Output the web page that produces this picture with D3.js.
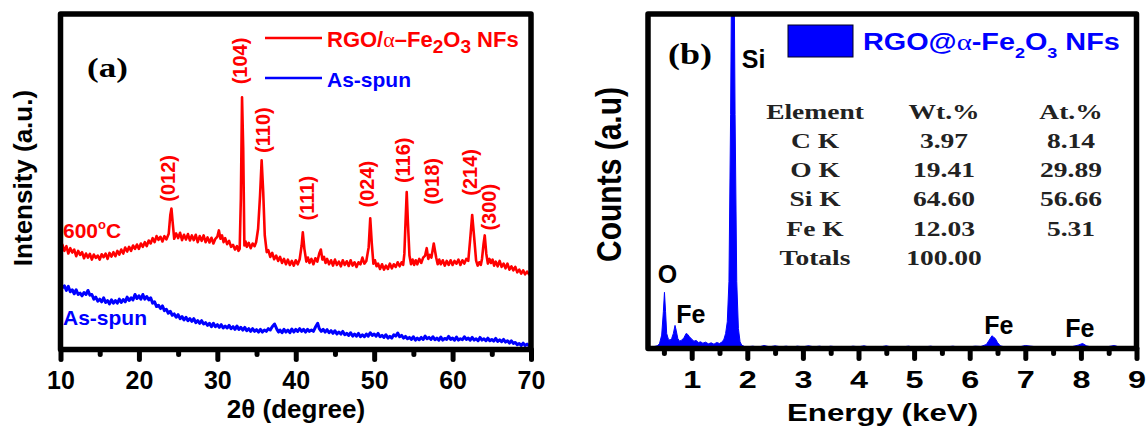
<!DOCTYPE html>
<html>
<head>
<meta charset="utf-8">
<script src="https://cdn.jsdelivr.net/npm/d3@7"></script>
<style>
  body { margin: 0; background: #fff; }
  svg { display: block; }
  text { font-family: 'Liberation Sans', Arial, sans-serif; font-weight: bold; }
  text.serif { font-family: 'Liberation Serif', 'Times New Roman', serif; }
</style>
</head>
<body>
<div id="chart"></div>
<script>
// Panel (a): XRD patterns, [2theta (deg), intensity (a.u.)]
const xrdAnnealed = [
  [10.0, 29.6], [10.25, 31.2], [10.5, 29.4], [10.75, 30.8], [11.0, 28.6], [11.25, 30.2],
  [11.5, 28.9], [11.75, 29.8], [12.0, 27.8], [12.25, 29.4], [12.5, 28.2], [12.75, 29.0],
  [13.0, 27.2], [13.25, 28.6], [13.5, 27.4], [13.75, 28.5], [14.0, 26.8], [14.25, 28.3],
  [14.5, 27.3], [14.75, 28.0], [15.0, 26.8], [15.25, 28.4], [15.5, 27.5], [15.75, 28.6],
  [16.0, 27.0], [16.25, 28.8], [16.5, 27.7], [16.75, 29.0], [17.0, 27.8], [17.25, 29.4],
  [17.5, 28.3], [17.75, 29.8], [18.0, 28.6], [18.25, 30.4], [18.5, 29.2], [18.75, 30.6],
  [19.0, 29.4], [19.25, 31.0], [19.5, 30.0], [19.75, 31.3], [20.0, 30.0], [20.25, 31.6],
  [20.5, 30.6], [20.75, 32.0], [21.0, 30.8], [21.25, 32.5], [21.5, 31.6], [21.75, 33.2],
  [22.0, 32.0], [22.25, 33.8], [22.5, 32.7], [22.75, 33.6], [23.0, 32.2], [23.25, 33.8],
  [23.5, 32.8], [23.8, 34.5], [24.0, 40.0], [24.15, 42.0], [24.3, 38.0], [24.5, 33.0],
  [24.75, 34.6], [25.0, 33.2], [25.25, 34.8], [25.5, 32.6], [25.75, 34.2], [26.0, 32.8],
  [26.25, 34.4], [26.5, 32.5], [26.75, 34.0], [27.0, 32.6], [27.25, 34.2], [27.5, 32.0],
  [27.75, 33.8], [28.0, 32.4], [28.25, 34.0], [28.5, 32.0], [28.75, 33.4], [29.0, 31.9],
  [29.25, 33.3], [29.5, 31.6], [29.75, 33.0], [30.0, 33.6], [30.2, 35.5], [30.4, 33.0],
  [30.6, 34.0], [30.8, 32.0], [31.0, 33.2], [31.25, 31.4], [31.5, 32.4], [31.75, 30.6],
  [32.0, 31.2], [32.25, 29.8], [32.5, 30.8], [32.7, 29.4], [32.85, 30.0], [33.0, 45.0],
  [33.15, 75.2], [33.3, 60.0], [33.45, 31.0], [33.6, 32.2], [33.75, 30.6], [34.0, 31.8],
  [34.25, 30.2], [34.5, 31.6], [34.75, 30.8], [34.95, 32.0], [35.2, 36.0], [35.45, 46.0],
  [35.65, 56.4], [35.85, 47.0], [36.05, 34.0], [36.3, 29.0], [36.5, 29.6], [36.75, 27.6],
  [37.0, 28.8], [37.25, 26.9], [37.5, 28.0], [37.75, 26.4], [38.0, 27.6], [38.25, 25.8],
  [38.5, 27.0], [38.75, 25.4], [39.0, 26.8], [39.25, 25.2], [39.5, 26.4], [39.75, 25.0],
  [40.0, 26.6], [40.25, 25.4], [40.5, 26.9], [40.75, 31.0], [40.9, 34.9], [41.1, 30.0],
  [41.35, 26.2], [41.55, 27.4], [41.75, 25.8], [42.0, 27.0], [42.25, 25.4], [42.5, 27.2],
  [42.75, 26.2], [43.0, 28.6], [43.2, 29.8], [43.4, 26.8], [43.6, 27.6], [43.8, 25.8],
  [44.0, 27.0], [44.25, 25.4], [44.5, 26.6], [44.75, 25.0], [45.0, 26.8], [45.25, 25.2],
  [45.5, 26.2], [45.75, 24.8], [46.0, 26.6], [46.25, 25.2], [46.5, 26.3], [46.75, 24.9],
  [47.0, 26.6], [47.25, 25.0], [47.5, 26.0], [47.75, 24.6], [48.0, 26.0], [48.25, 25.4],
  [48.5, 27.4], [48.75, 25.6], [49.0, 26.4], [49.3, 30.5], [49.5, 39.1], [49.7, 31.5],
  [49.9, 25.6], [50.1, 26.6], [50.3, 24.8], [50.5, 25.6], [50.75, 24.0], [51.0, 25.4],
  [51.25, 23.8], [51.5, 25.0], [51.75, 24.0], [52.0, 25.6], [52.25, 24.2], [52.5, 25.4],
  [52.75, 24.6], [53.0, 26.0], [53.25, 24.8], [53.5, 26.0], [53.7, 25.2], [53.85, 28.5],
  [54.0, 38.0], [54.15, 46.9], [54.3, 38.0], [54.5, 28.0], [54.7, 25.4], [54.9, 26.8],
  [55.1, 25.2], [55.3, 26.6], [55.5, 25.4], [55.75, 27.0], [56.0, 25.8], [56.25, 27.4],
  [56.5, 28.0], [56.7, 30.2], [56.9, 27.0], [57.1, 28.2], [57.3, 27.4], [57.6, 31.6],
  [57.9, 27.5], [58.1, 25.4], [58.3, 26.8], [58.5, 25.4], [58.75, 26.6], [59.0, 25.0],
  [59.25, 26.4], [59.5, 25.2], [59.75, 26.6], [60.0, 25.2], [60.25, 26.4], [60.5, 25.6],
  [60.75, 26.8], [61.0, 25.2], [61.25, 26.6], [61.5, 25.6], [61.75, 27.0], [62.0, 26.4],
  [62.25, 33.0], [62.5, 40.1], [62.75, 33.5], [63.0, 26.5], [63.2, 25.0], [63.4, 26.0],
  [63.6, 25.2], [63.75, 27.0], [63.95, 31.5], [64.1, 34.0], [64.3, 28.5], [64.5, 25.6],
  [64.7, 27.0], [64.9, 25.8], [65.1, 26.8], [65.3, 25.0], [65.5, 26.2], [65.75, 24.8],
  [66.0, 26.4], [66.25, 24.6], [66.5, 25.6], [66.75, 24.2], [67.0, 25.6], [67.25, 23.8],
  [67.5, 24.8], [67.75, 23.6], [68.0, 24.6], [68.25, 23.0], [68.5, 23.8], [68.75, 22.6],
  [69.0, 23.6], [69.25, 22.4], [69.5, 23.2], [69.75, 22.4], [70.0, 23.0]
]

const xrdAsSpun = [
  [10.0, 19.8], [10.25, 18.4], [10.5, 19.0], [10.75, 17.6], [11.0, 18.8], [11.25, 17.2],
  [11.5, 17.8], [11.75, 16.6], [12.0, 17.8], [12.25, 16.4], [12.5, 16.8], [12.75, 16.0],
  [13.0, 17.0], [13.25, 16.4], [13.5, 17.6], [13.75, 16.2], [14.0, 16.4], [14.25, 15.0],
  [14.5, 15.6], [14.75, 14.4], [15.0, 15.0], [15.25, 14.2], [15.5, 15.4], [15.75, 14.0],
  [16.0, 14.6], [16.25, 13.6], [16.5, 14.8], [16.75, 13.8], [17.0, 14.6], [17.25, 13.8],
  [17.5, 15.0], [17.75, 14.0], [18.0, 14.9], [18.25, 14.2], [18.5, 15.6], [18.75, 14.6],
  [19.0, 15.4], [19.25, 14.8], [19.5, 16.4], [19.75, 15.2], [20.0, 16.0], [20.25, 15.0],
  [20.5, 16.4], [20.75, 15.0], [21.0, 15.8], [21.25, 14.8], [21.5, 15.4], [21.75, 13.8],
  [22.0, 14.2], [22.25, 12.8], [22.5, 13.2], [22.75, 12.2], [23.0, 13.0], [23.25, 11.6],
  [23.5, 12.0], [23.75, 10.8], [24.0, 11.4], [24.25, 10.2], [24.5, 10.6], [24.75, 9.6],
  [25.0, 10.4], [25.25, 9.2], [25.5, 9.8], [25.75, 8.8], [26.0, 9.6], [26.25, 8.6],
  [26.5, 9.2], [26.75, 8.4], [27.0, 9.2], [27.25, 8.0], [27.5, 8.6], [27.75, 7.8],
  [28.0, 8.6], [28.25, 7.6], [28.5, 8.0], [28.75, 7.2], [29.0, 7.8], [29.25, 6.8],
  [29.5, 7.8], [29.75, 6.8], [30.0, 7.4], [30.25, 6.6], [30.5, 7.4], [30.75, 6.4],
  [31.0, 7.0], [31.25, 6.4], [31.5, 7.2], [31.75, 6.2], [32.0, 6.8], [32.25, 6.0],
  [32.5, 7.0], [32.75, 6.0], [33.0, 6.6], [33.25, 5.8], [33.5, 6.6], [33.75, 5.6],
  [34.0, 6.2], [34.25, 5.4], [34.5, 6.2], [34.75, 5.4], [35.0, 5.9], [35.25, 5.2],
  [35.5, 6.0], [35.75, 5.2], [36.0, 5.8], [36.25, 5.4], [36.5, 6.2], [36.75, 5.8],
  [37.0, 6.8], [37.3, 7.6], [37.6, 6.0], [37.8, 5.2], [38.0, 5.8], [38.25, 5.0],
  [38.5, 6.0], [38.75, 5.2], [39.0, 5.8], [39.25, 5.0], [39.5, 6.1], [39.75, 5.2],
  [40.0, 6.0], [40.25, 5.4], [40.5, 6.2], [40.75, 5.4], [41.0, 6.0], [41.25, 5.2],
  [41.5, 6.0], [41.75, 5.4], [42.0, 5.8], [42.25, 5.4], [42.5, 6.6], [42.8, 7.8],
  [43.0, 6.2], [43.25, 5.4], [43.5, 6.0], [43.75, 5.2], [44.0, 5.9], [44.25, 5.0],
  [44.5, 5.6], [44.75, 4.8], [45.0, 5.6], [45.25, 4.6], [45.5, 5.2], [45.75, 4.6],
  [46.0, 5.4], [46.25, 4.4], [46.5, 4.8], [46.75, 4.2], [47.0, 5.0], [47.25, 4.0],
  [47.5, 4.6], [47.75, 4.0], [48.0, 4.8], [48.25, 3.8], [48.5, 4.4], [48.75, 3.8],
  [49.0, 4.6], [49.25, 4.0], [49.5, 5.0], [49.75, 4.2], [50.0, 4.6], [50.25, 4.0],
  [50.5, 4.8], [50.75, 3.8], [51.0, 4.2], [51.25, 3.6], [51.5, 4.4], [51.75, 3.4],
  [52.0, 3.9], [52.25, 3.4], [52.5, 4.4], [52.75, 4.0], [53.0, 4.9], [53.25, 3.8],
  [53.5, 4.2], [53.75, 3.4], [54.0, 3.9], [54.25, 3.2], [54.5, 3.6], [54.75, 3.0],
  [55.0, 3.8], [55.25, 2.8], [55.5, 3.4], [55.75, 2.9], [56.0, 3.6], [56.25, 3.0],
  [56.5, 4.0], [56.75, 3.2], [57.0, 3.6], [57.25, 3.0], [57.5, 3.8], [57.75, 2.9],
  [58.0, 3.4], [58.25, 2.8], [58.5, 3.7], [58.75, 2.8], [59.0, 3.3], [59.25, 3.0],
  [59.5, 3.9], [59.75, 3.0], [60.0, 3.4], [60.25, 2.8], [60.5, 3.7], [60.75, 2.8],
  [61.0, 3.2], [61.25, 2.9], [61.5, 3.8], [61.75, 3.0], [62.0, 3.4], [62.25, 2.8],
  [62.5, 3.6], [62.75, 2.8], [63.0, 3.2], [63.25, 2.6], [63.5, 3.6], [63.75, 2.8],
  [64.0, 3.2], [64.25, 2.6], [64.5, 3.4], [64.75, 2.6], [65.0, 3.0], [65.25, 2.5],
  [65.5, 3.3], [65.75, 2.4], [66.0, 2.9], [66.25, 2.3], [66.5, 3.0], [66.75, 2.2],
  [67.0, 2.6], [67.25, 1.9], [67.5, 2.6], [67.75, 1.8], [68.0, 2.1], [68.25, 1.4],
  [68.5, 1.8], [68.75, 1.2], [69.0, 1.9], [69.25, 1.2], [69.5, 1.6], [69.75, 1.1],
  [70.0, 1.7]
]

// hkl reflections: label, 2theta and intensity level of the label centre
const hklNames = ['(012)', '(104)', '(110)', '(111)', '(024)', '(116)', '(018)', '(214)', '(300)']
const hklTheta = [23.7, 32.9, 35.8, 41.4, 49.1, 53.7, 57.4, 62.2, 64.6]
const hklLevel = [51.0, 86.0, 65.4, 45.1, 49.3, 56.4, 50.1, 52.8, 42.4]

const xrdTicks = [10, 20, 30, 40, 50, 60, 70]
const xrdMinorTicks = [15, 25, 35, 45, 55, 65]

// Panel (b): EDS spectrum, [energy (keV), counts]
const edsSpectrum = [
  [0.21, 3], [0.30, 5], [0.38, 8], [0.42, 14], [0.46, 40], [0.49, 110], [0.51, 168],
  [0.53, 110], [0.55, 45], [0.58, 28], [0.61, 25], [0.64, 30], [0.67, 45], [0.70, 69],
  [0.72, 55], [0.75, 30], [0.78, 22], [0.82, 25], [0.86, 32], [0.90, 45], [0.93, 42],
  [0.96, 35], [1.00, 28], [1.04, 22], [1.08, 24], [1.12, 18], [1.16, 20], [1.20, 16],
  [1.25, 19], [1.30, 14], [1.35, 17], [1.40, 13], [1.45, 18], [1.50, 15], [1.55, 20],
  [1.58, 28], [1.61, 45], [1.64, 80], [1.67, 200], [1.70, 700], [1.72, 1200], [1.74, 1400],
  [1.76, 1200], [1.78, 700], [1.81, 200], [1.84, 60], [1.87, 20], [1.90, 10], [1.95, 6],
  [2.0, 5], [2.1, 7], [2.2, 4], [2.3, 9], [2.4, 5], [2.5, 8], [2.6, 5], [2.7, 7],
  [2.8, 4], [2.9, 7], [3.0, 5], [3.1, 8], [3.2, 5], [3.3, 7], [3.4, 4], [3.5, 7],
  [3.6, 5], [3.7, 6], [3.8, 4], [3.9, 7], [4.0, 5], [4.1, 8], [4.2, 4], [4.3, 6],
  [4.4, 5], [4.5, 8], [4.6, 4], [4.7, 6], [4.8, 5], [4.9, 7], [5.0, 4], [5.1, 6],
  [5.2, 5], [5.3, 7], [5.4, 4], [5.5, 6], [5.6, 5], [5.7, 7], [5.8, 4], [5.9, 6],
  [6.0, 5], [6.1, 7], [6.2, 6], [6.3, 12], [6.35, 25], [6.40, 38], [6.43, 34], [6.46, 30],
  [6.50, 18], [6.55, 8], [6.6, 6], [6.7, 4], [6.8, 6], [6.9, 5], [7.0, 9], [7.1, 7],
  [7.2, 5], [7.3, 6], [7.4, 4], [7.5, 6], [7.6, 5], [7.7, 6], [7.8, 4], [7.95, 10],
  [8.03, 15], [8.1, 8], [8.2, 4], [8.3, 6], [8.4, 5], [8.5, 6], [8.6, 9], [8.7, 4],
  [8.8, 6], [8.9, 4], [9.0, 5]
]

// element peak labels: text, energy and counts level of the text baseline
const edsPeakNames = ['O', 'Fe', 'Si', 'Fe', 'Fe']
const edsPeakKeV = [0.39, 0.72, 1.90, 6.26, 7.72]
const edsPeakLevel = [195, 75, 838, 42, 33]

const edsTicks = [1, 2, 3, 4, 5, 6, 7, 8, 9]
const edsMinorTicks = [0.5, 1.5, 2.5, 3.5, 4.5, 5.5, 6.5, 7.5, 8.5]

// composition table
const tableHead = ['Element', 'Wt.%', 'At.%']
const tableElements = ['C K', 'O K', 'Si K', 'Fe K', 'Totals']
const tableWt = ['3.97', '19.41', '64.60', '12.03', '100.00']
const tableAt = ['8.14', '29.89', '56.66', '5.31', '']

const RED = '#ff0000', BLUE = '#0000ff'

let svg = d3.select('#chart').append('svg')
    .attr('width', 1146)
    .attr('height', 428)

let defs = svg.append('defs')

// Plain text helper, sx stretches horizontally, rot turns it upright
function addText(g, str, x, y, size, o = {}) {
  let t = g.append('text')
    .attr('transform', `translate(${x},${y}) scale(${o.sx || 1},1)` + (o.rot ? ' rotate(-90)' : ''))
    .attr('font-size', size)
    .attr('fill', o.fill || '#000')
    .attr('text-anchor', o.anchor || 'start')
    .text(str)
  if (o.serif) t.attr('class', 'serif')
  if (o.dy) t.attr('dy', o.dy)
  return t
}

// Formula text with subscripts: parts = [[text, isSub], ...]
function addFormula(g, parts, x, y, size, subSize, shift, fill, sx) {
  let t = g.append('text')
    .attr('transform', `translate(${x},${y}) scale(${sx},1)`)
    .attr('font-size', size)
    .attr('fill', fill)
  let prevSub = false
  parts.forEach(([s, sub]) => {
    let dy = sub === prevSub ? 0 : (sub ? shift : -shift)
    let span = t.append('tspan').attr('dy', dy).text(s)
    if (sub) span.attr('font-size', subSize)
    if (s === 'α') span.style('font-weight', 'normal').style('font-family', "'Liberation Serif', serif")
    prevSub = sub
  })
  return t
}

function drawTicks(g, scale, y, major, minor, labelSize, sx) {
  let gMinor = g.append('g')
    .attr('transform', `translate(0,${y})`)
    .call(d3.axisBottom(scale).tickValues(minor).tickSize(5).tickFormat(''))

  let gMajor = g.append('g')
    .attr('transform', `translate(0,${y})`)
    .call(d3.axisBottom(scale).tickValues(major).tickSize(10).tickPadding(12).tickFormat(d3.format('d')))

  ;[gMinor, gMajor].forEach(a => {
    a.attr('font-family', null).attr('font-size', null)
    a.select('.domain').remove()
    a.selectAll('line')
      .attr('stroke', '#000')
      .attr('stroke-width', 5)
      .attr('stroke-linecap', 'round')
  })
  gMajor.selectAll('text')
    .attr('font-size', labelSize)
    .attr('fill', '#000')
    .attr('transform', `scale(${sx},1)`)
}

// ------------------------------------------------------------
// Panel (a): XRD
// ------------------------------------------------------------
let fa = {left: 60.5, top: 14, right: 531, bottom: 349.5}
let xA = d3.scaleLinear().domain([10, 70]).range([fa.left, fa.right])
let yA = d3.scaleLinear().domain([0, 100]).range([fa.bottom, fa.top])

defs.append('clipPath').attr('id', 'clip-a')
  .append('rect')
  .attr('x', fa.left).attr('y', fa.top)
  .attr('width', fa.right - fa.left).attr('height', fa.bottom - fa.top)

let gA = svg.append('g').attr('class', 'panel-a')

let lineA = d3.line()
    .x(d => xA(d[0]))
    .y(d => yA(d[1]))

gA.append('g').attr('clip-path', 'url(#clip-a)')
  .selectAll('path')
  .data([[xrdAsSpun, BLUE, 3], [xrdAnnealed, RED, 2.6]])
  .enter().append('path')
  .attr('d', d => lineA(d[0]))
  .attr('fill', 'none')
  .attr('stroke', d => d[1])
  .attr('stroke-width', d => d[2])
  .attr('stroke-linejoin', 'round')

// hkl labels
hklNames.forEach((s, i) => {
  addText(gA, s, xA(hklTheta[i]), yA(hklLevel[i]), 20, {rot: true, anchor: 'middle', fill: RED, dy: '0.36em'})
})

let t600 = addText(gA, '600', 63, 238, 21, {fill: RED})
t600.append('tspan').attr('font-size', 13).attr('dy', -9).text('o')
t600.append('tspan').attr('dy', 9).text('C')
addText(gA, 'As-spun', 63, 325, 21, {fill: BLUE})

// legend
gA.append('line').attr('x1', 265).attr('x2', 322).attr('y1', 38).attr('y2', 38)
  .attr('stroke', RED).attr('stroke-width', 2.5)
gA.append('line').attr('x1', 265).attr('x2', 322).attr('y1', 78).attr('y2', 78)
  .attr('stroke', BLUE).attr('stroke-width', 2.5)
addFormula(gA, [['RGO/', false], ['α', false], ['–Fe', false], ['2', true], ['O', false], ['3', true], [' NFs', false]],
  327, 47, 22, 19, 6, RED, 1)
addText(gA, 'As-spun', 327, 87, 21, {fill: BLUE})

addText(gA, '(a)', 87, 77, 28, {serif: true, sx: 1.25})

// axes
drawTicks(gA, xA, fa.bottom, xrdTicks, xrdMinorTicks, 25, 1)
addText(gA, '2θ (degree)', 296, 418, 26, {anchor: 'middle'})
addText(gA, 'Intensity (a.u.)', 31.5, 178, 26, {rot: true, anchor: 'middle'})

gA.append('rect')
  .attr('x', fa.left).attr('y', fa.top)
  .attr('width', fa.right - fa.left).attr('height', fa.bottom - fa.top)
  .attr('fill', 'none').attr('stroke', '#000').attr('stroke-width', 5.5)
  .attr('stroke-linejoin', 'round')

// ------------------------------------------------------------
// Panel (b): EDS
// ------------------------------------------------------------
let fb = {left: 648, top: 14, right: 1136.5, bottom: 348.5}
let xB = d3.scaleLinear().domain([0.214, 9]).range([fb.left, fb.right])
let yB = d3.scaleLinear().domain([0, 1000]).range([fb.bottom, fb.top])

defs.append('clipPath').attr('id', 'clip-b')
  .append('rect')
  .attr('x', fb.left).attr('y', fb.top)
  .attr('width', fb.right - fb.left).attr('height', fb.bottom - fb.top)

let gB = svg.append('g').attr('class', 'panel-b')

let areaB = d3.area()
    .x(d => xB(d[0]))
    .y0(yB(0))
    .y1(d => yB(d[1]))

gB.append('path')
  .datum(edsSpectrum)
  .attr('clip-path', 'url(#clip-b)')
  .attr('d', areaB)
  .attr('fill', BLUE)
  .attr('stroke', BLUE)
  .attr('stroke-width', 1)

edsPeakNames.forEach((s, i) => {
  addText(gB, s, xB(edsPeakKeV[i]), yB(edsPeakLevel[i]), 25)
})

// legend
gB.append('rect')
  .attr('x', 788).attr('y', 25).attr('width', 65).attr('height', 32)
  .attr('fill', BLUE).attr('stroke', '#000020').attr('stroke-width', 1)
addFormula(gB, [['RGO@', false], ['α', false], ['-Fe', false], ['2', true], ['O', false], ['3', true], [' NFs', false]],
  863, 50, 24, 15, 8, BLUE, 1.2)

// composition table
let colX = [815, 944, 1071]
let rowY = [119, 148, 177, 206, 235.5, 265]
let cell = {serif: true, sx: 1.25, anchor: 'middle', fill: '#222'}
tableHead.forEach((s, j) => addText(gB, s, colX[j], rowY[0], 22, cell))
tableElements.forEach((s, i) => {
  addText(gB, s, colX[0], rowY[i + 1], 22, cell)
  addText(gB, tableWt[i], colX[1], rowY[i + 1], 22, cell)
  addText(gB, tableAt[i], colX[2], rowY[i + 1], 22, cell)
})

addText(gB, '(b)', 668, 64, 30, {serif: true, sx: 1.2})

// axes
drawTicks(gB, xB, fb.bottom, edsTicks, edsMinorTicks, 24, 1.35)
addText(gB, 'Energy (keV)', 882.5, 421, 23, {anchor: 'middle', sx: 1.36})
addText(gB, 'Counts (a.u)', 621, 174.5, 30, {rot: true, anchor: 'middle', sx: 1.15})

gB.append('rect')
  .attr('x', fb.left).attr('y', fb.top)
  .attr('width', fb.right - fb.left).attr('height', fb.bottom - fb.top)
  .attr('fill', 'none').attr('stroke', '#000').attr('stroke-width', 5.5)
  .attr('stroke-linejoin', 'round')
</script>
</body>
</html>
